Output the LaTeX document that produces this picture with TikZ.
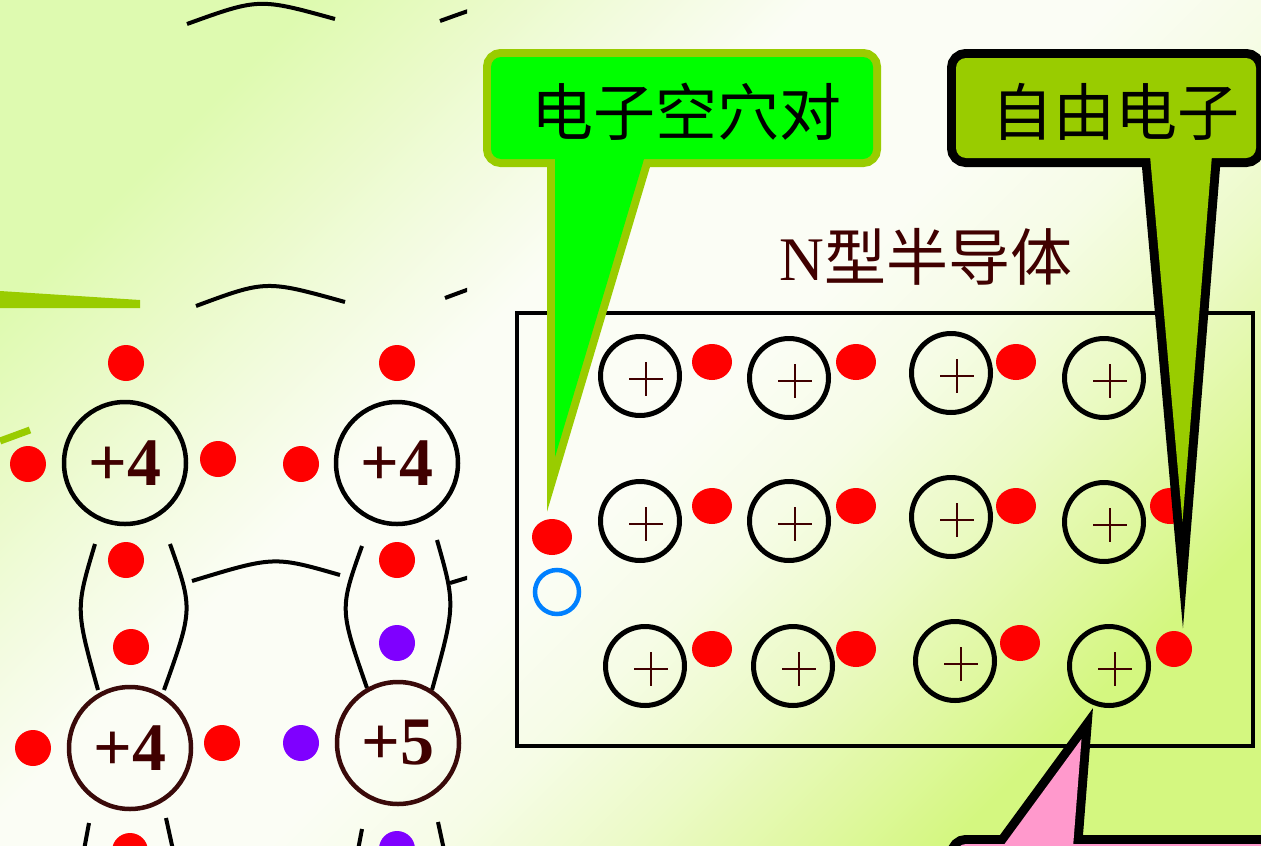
\documentclass[tikz,border=0pt]{standalone}
\usepackage{fontspec}
\setmainfont{Liberation Serif}
\newfontfamily\cjkfont{Noto Sans CJK SC}
\usetikzlibrary{shapes.geometric}

\definecolor{limegreen}{RGB}{153,204,0}
\definecolor{brightgreen}{RGB}{0,255,0}
\definecolor{pinkfill}{RGB}{255,153,204}
\definecolor{darkbrown}{RGB}{64,0,0}
\definecolor{ringbrown}{RGB}{58,10,10}
\definecolor{electronred}{RGB}{255,0,0}
\definecolor{donorviolet}{RGB}{127,0,255}
\definecolor{holeblue}{RGB}{0,128,255}
% background tones, bottom-right to top-left
\definecolor{bg1}{RGB}{212,247,128}
\definecolor{bg2}{RGB}{224,248,162}
\definecolor{bg3}{RGB}{236,250,200}
\definecolor{bg4}{RGB}{246,252,230}
\definecolor{bgW}{RGB}{251,253,245}
\definecolor{bg5}{RGB}{242,251,222}
\definecolor{bg6}{RGB}{232,250,196}
\definecolor{bg7}{RGB}{222,250,176}
\pgfdeclareverticalshading{bgshade}{100bp}{color(0bp)=(bg1); color(25bp)=(bg1); color(30bp)=(bg2); color(36bp)=(bg3); color(42bp)=(bg4); color(48bp)=(bgW); color(58bp)=(bgW); color(64bp)=(bg5); color(70bp)=(bg6); color(75bp)=(bg7); color(100bp)=(bg7)}

\begin{document}
\begin{tikzpicture}[x=1pt,y=-1pt,
  atom/.style={circle, draw=black, line width=4.5, minimum size=122, inner sep=0,
    text=darkbrown, font=\bfseries\fontsize{68}{68}\selectfont},
  dot/.style={circle, fill=electronred, minimum size=36, inner sep=0},
  donor/.style={dot, fill=donorviolet},
  bond/.style={line width=4, black},
  ion/.style={circle, draw=black, line width=5, minimum size=79, inner sep=0},
  cross/.style={line width=2.4, darkbrown},
  freeel/.style={ellipse, fill=electronred, minimum width=40, minimum height=36, inner sep=0},
  hole/.style={circle, draw=holeblue, line width=4.5, minimum size=44, inner sep=0},
  calloutlabel/.style={text=black, font=\cjkfont\fontsize{62}{62}\selectfont},
]
\useasboundingbox (0,0) rectangle (1261,846);
\clip (0,0) rectangle (1261,846);

% background
\shade[shading=bgshade, shading angle=45] (0,0) rectangle (1261,846);

% ---------- lattice with a pentavalent donor ----------
\begin{scope}
  \clip (0,0) rectangle (467,846);
  \fill[limegreen] (0,291) -- (140,300) -- (140,308) -- (0,308) -- cycle;
  \draw[limegreen, line width=7] (0,441) -- (30,430);

  % covalent bond arcs
  \draw[bond] (187,24) .. controls (259,-2) .. (335,19);
  \draw[bond] (440,21) .. controls (512,-5) .. (588,16);
  \draw[bond] (196,306) .. controls (266,280) .. (345,302);
  \draw[bond] (445,298) .. controls (515,272) .. (594,294);
  \draw[bond] (192,581) .. controls (274,556) .. (340,575);
  \draw[bond] (450,583) .. controls (532,558) .. (598,577);
  \draw[bond] (95,544) .. controls (75.5,609) .. (98,690);
  \draw[bond] (170,544) .. controls (193,609) .. (164,690);
  \draw[bond] (362,546) .. controls (339.5,609) .. (367,688);
  \draw[bond] (437,540) .. controls (455.5,605) .. (432,690);
  \draw[bond] (89,823) -- (84,850);
  \draw[bond] (166,818) -- (173,850);
  \draw[bond] (362,829) -- (358,850);
  \draw[bond] (438,822) -- (444,850);

  % atom cores
  \node[atom] (si1) at (125,463) {+4};
  \node[atom] (si2) at (397,463) {+4};
  \node[atom, draw=ringbrown] (si3) at (130,748) {+4};
  \node[atom, draw=ringbrown] (pd) at (398,743) {+5};

  % valence electrons
  \node[dot] (v1) at (126,363) {};
  \node[dot] (v2) at (28,464) {};
  \node[dot] (v3) at (218,459) {};
  \node[dot] (v4) at (301,464) {};
  \node[dot] (v5) at (397,363) {};
  \node[dot] (v6) at (126,560) {};
  \node[dot] (v7) at (131,647) {};
  \node[dot] (v8) at (397,560) {};
  \node[donor] (d1) at (397,643) {};
  \node[dot] (v9) at (33,748) {};
  \node[dot] (v10) at (222,743) {};
  \node[donor] (d2) at (301,743) {};
  \node[dot] (v11) at (130,851) {};
  \node[donor] (d3) at (397,849) {};
\end{scope}

% ---------- N-type semiconductor ----------
\node[text=darkbrown, font=\fontsize{62}{62}\selectfont] (title) at (926,257) {N{\cjkfont 型半导体}};
\node[draw, line width=4.5, minimum width=736, minimum height=433, inner sep=0] (crystal) at (885,529.5) {};

\foreach \r/\c/\x/\y in {1/1/640/376, 1/2/789/378, 1/3/951/373, 1/4/1104/378,
                         2/1/640/521, 2/2/789/521, 2/3/951/517, 2/4/1104/522,
                         3/1/645/666, 3/2/793/666, 3/3/955/661, 3/4/1109/666} {
  \node[ion] (ion-\r-\c) at (\x,\y) {};
  \draw[cross] (\x-11,\y+3) -- (\x+23,\y+3) (\x+6,\y-14) -- (\x+6,\y+20);
}

\foreach \r/\c/\x/\y in {1/1/712/362, 1/2/856/362, 1/3/1016/362,
                         2/1/712/506, 2/2/856/506, 2/3/1016/506, 2/4/1170/506,
                         3/1/712/649, 3/2/856/649, 3/3/1020/643}
  \node[freeel] (el-\r-\c) at (\x,\y) {};
\node[dot] (el-3-4) at (1174,649) {};

% thermally generated pair
\node[freeel] (pairE) at (552,537) {};
\node[hole] (pairH) at (557,592) {};

% ---------- callouts ----------
\begin{scope}[miter limit=20]
  % electron-hole pair
  \draw[limegreen, line width=16, rounded corners=10] (491,57) rectangle (873,159);
  \draw[limegreen, line width=16] (555,150) -- (646.7,150) -- (555,457) -- cycle;
  \fill[brightgreen, rounded corners=10] (491,57) rectangle (873,159);
  \fill[brightgreen] (555,150) -- (646.7,150) -- (555,457) -- cycle;
  \node[calloutlabel] (pairLabel) at (686,112) {电子空穴对};

  % free electron
  \draw[black, line width=18, rounded corners=10] (956,58) rectangle (1256,158);
  \draw[black, line width=18] (1149.5,150) -- (1212.4,150) -- (1182.5,521.6) -- cycle;
  \fill[limegreen, rounded corners=10] (956,58) rectangle (1256,158);
  \fill[limegreen] (1149.5,150) -- (1212.4,150) -- (1182.5,521.6) -- cycle;
  \node[calloutlabel] (freeLabel) at (1115,112) {自由电子};

  % donor ion
  \draw[black, line width=18, rounded corners=10] (956,844) rectangle (1300,960);
  \draw[black, line width=18] (996.5,855) -- (1081.5,739) -- (1072.4,855) -- cycle;
  \fill[pinkfill, rounded corners=10] (956,844) rectangle (1300,960);
  \fill[pinkfill] (996.5,855) -- (1081.5,739) -- (1072.4,855) -- cycle;
\end{scope}
\end{tikzpicture}
\end{document}
